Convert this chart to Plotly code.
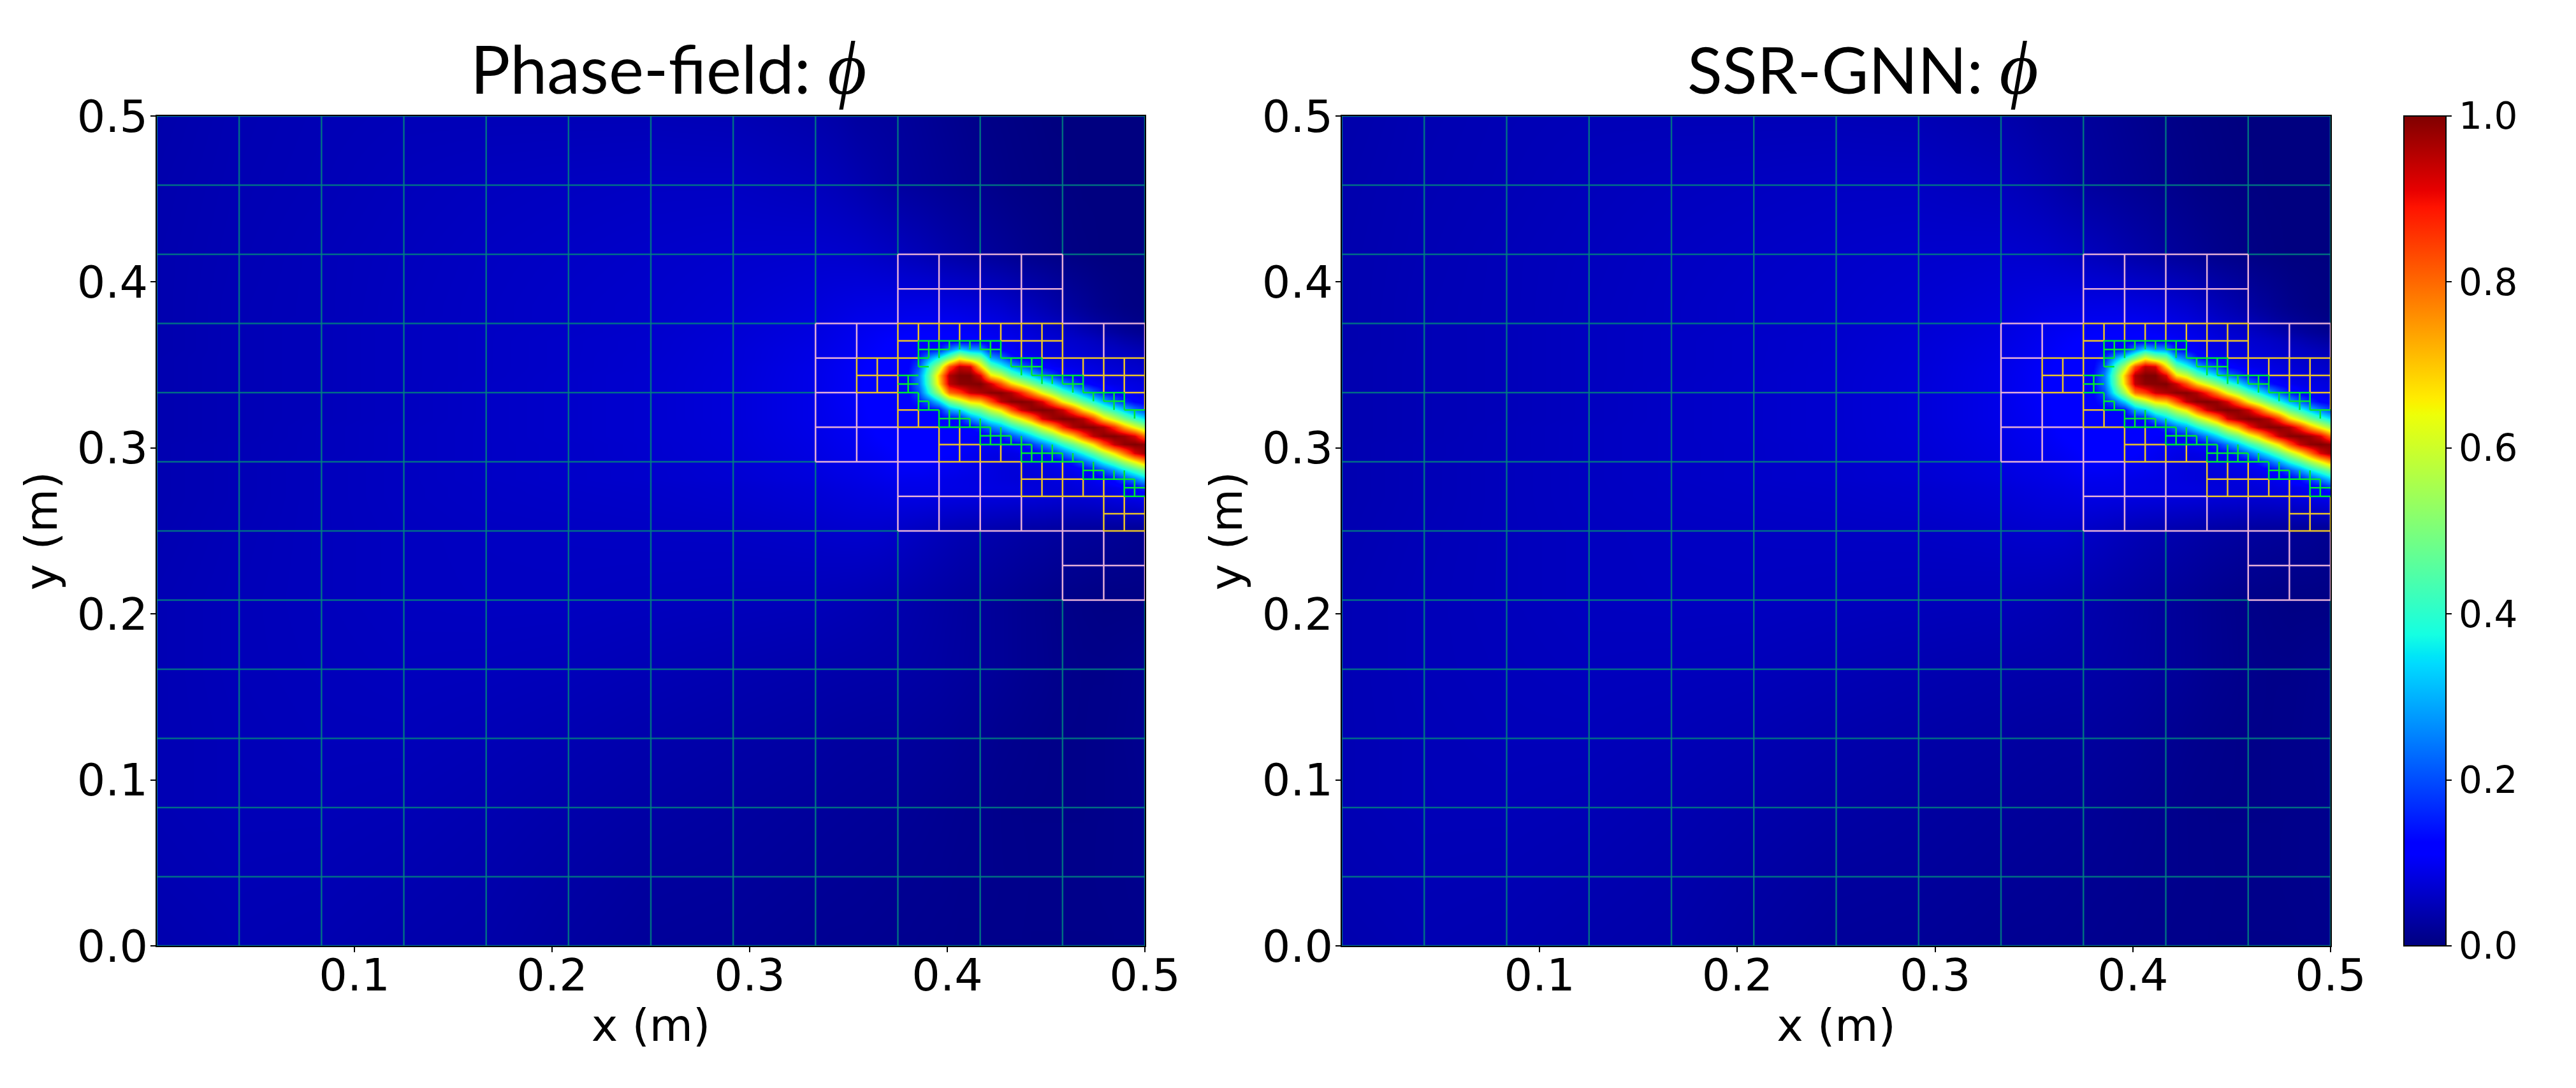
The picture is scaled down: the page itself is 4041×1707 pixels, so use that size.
import numpy as np
import plotly.graph_objects as go

# all mesh/field positions are in units of the finest cell, 1/192 m
CELL = 1 / 192

X_IDX = [0, 8, 16, 24, 32, 40, 48, 56, 64, 66, 68, 70] + list(range(72, 97))
Y_IDX = [0, 8, 16, 24, 32, 40, 48] + list(range(52, 75)) + [80, 88, 96]

# phi, in thousandths. one row per Y_IDX, bottom row first
PHI = [
    [40, 44, 42, 38, 35, 28, 22, 20, 16, 15, 15, 14, 13, 13, 12, 12, 11, 11, 10, 10, 10, 9, 9, 9, 9, 8, 8, 8, 8, 8, 8, 8, 8, 9, 9, 9, 10],
    [43, 46, 45, 42, 38, 32, 26, 24, 20, 19, 18, 17, 16, 15, 15, 14, 14, 13, 12, 12, 11, 11, 10, 10, 10, 9, 9, 9, 9, 9, 9, 9, 10, 10, 10, 11, 11],
    [45, 48, 48, 46, 42, 37, 32, 28, 24, 23, 22, 21, 20, 19, 18, 17, 16, 15, 14, 13, 12, 11, 10, 9, 9, 8, 8, 8, 8, 8, 8, 9, 9, 10, 10, 11, 12],
    [45, 48, 50, 50, 47, 43, 38, 34, 30, 28, 27, 26, 26, 25, 24, 23, 22, 21, 19, 18, 16, 15, 13, 12, 11, 10, 9, 8, 8, 8, 8, 9, 9, 10, 11, 12, 13],
    [45, 49, 51, 53, 52, 50, 46, 42, 38, 37, 36, 35, 34, 33, 32, 31, 30, 28, 27, 25, 23, 22, 20, 18, 16, 14, 13, 11, 10, 9, 8, 8, 8, 9, 10, 11, 12],
    [45, 49, 52, 55, 56, 56, 54, 52, 50, 48, 46, 43, 40, 38, 36, 34, 32, 30, 28, 26, 24, 22, 20, 18, 16, 14, 12, 10, 8, 7, 6, 5, 4, 4, 4, 4, 4],
    [43, 48, 52, 55, 57, 58, 59, 60, 64, 66, 67, 66, 62, 59, 56, 53, 50, 47, 44, 42, 40, 38, 36, 34, 32, 30, 29, 27, 26, 24, 23, 22, 21, 19, 18, 16, 15],
    [42, 47, 52, 56, 59, 61, 63, 67, 74, 77, 80, 82, 86, 86, 86, 85, 85, 84, 83, 82, 81, 80, 79, 78, 77, 76, 75, 74, 72, 72, 73, 75, 79, 85, 89, 92, 100],
    [42, 47, 52, 56, 59, 62, 64, 68, 76, 80, 83, 86, 90, 90, 90, 90, 89, 88, 87, 86, 85, 84, 83, 82, 80, 79, 77, 76, 76, 78, 82, 86, 89, 95, 105, 122, 165],
    [42, 47, 52, 56, 60, 63, 66, 71, 80, 84, 87, 91, 96, 95, 95, 94, 92, 90, 88, 86, 84, 83, 80, 78, 76, 76, 78, 80, 83, 86, 90, 96, 110, 135, 190, 245, 315],
    [42, 47, 52, 56, 60, 63, 66, 72, 82, 87, 90, 95, 102, 102, 102, 100, 98, 96, 93, 90, 87, 84, 80, 78, 78, 80, 84, 87, 91, 97, 110, 140, 200, 270, 350, 420, 490],
    [42, 47, 52, 56, 60, 63, 67, 73, 84, 89, 93, 98, 106, 108, 108, 108, 106, 103, 100, 96, 90, 84, 82, 82, 85, 88, 92, 100, 115, 150, 210, 280, 370, 445, 540, 630, 730],
    [42, 47, 51, 56, 60, 63, 68, 74, 86, 91, 96, 102, 110, 112, 114, 114, 112, 110, 106, 100, 95, 90, 88, 90, 94, 102, 122, 165, 230, 300, 375, 460, 560, 665, 790, 920, 975],
    [42, 47, 51, 56, 60, 63, 68, 75, 87, 93, 98, 106, 114, 116, 118, 118, 116, 114, 110, 106, 102, 98, 100, 108, 130, 178, 245, 315, 400, 475, 570, 670, 820, 940, 988, 1000, 988],
    [41, 46, 51, 56, 60, 64, 69, 76, 89, 95, 100, 110, 116, 118, 118, 118, 118, 116, 112, 108, 105, 130, 145, 200, 262, 335, 420, 490, 600, 690, 830, 945, 992, 998, 975, 920, 790],
    [41, 46, 51, 56, 60, 64, 69, 76, 90, 96, 102, 112, 118, 118, 118, 118, 116, 115, 113, 120, 170, 240, 290, 370, 440, 510, 630, 730, 875, 960, 993, 995, 960, 860, 730, 630, 540],
    [41, 46, 50, 55, 60, 64, 69, 77, 91, 97, 104, 114, 118, 118, 118, 115, 115, 125, 140, 250, 320, 400, 450, 560, 650, 760, 920, 975, 999, 992, 955, 850, 690, 590, 495, 420, 350],
    [41, 46, 50, 55, 60, 64, 69, 77, 91, 98, 105, 115, 118, 118, 115, 125, 140, 280, 330, 440, 490, 590, 670, 820, 935, 985, 1000, 988, 935, 820, 680, 580, 470, 395, 315, 245, 190],
    [41, 46, 50, 55, 60, 64, 69, 77, 91, 99, 106, 116, 120, 120, 150, 220, 330, 480, 570, 670, 700, 825, 945, 992, 999, 985, 920, 790, 650, 560, 465, 385, 300, 220, 165, 122, 105],
    [41, 46, 50, 55, 60, 64, 69, 77, 91, 99, 106, 116, 120, 125, 200, 380, 550, 790, 845, 935, 960, 990, 995, 960, 875, 760, 630, 540, 440, 370, 290, 215, 150, 115, 100, 92, 88],
    [41, 46, 50, 55, 60, 64, 69, 77, 91, 98, 106, 116, 120, 130, 240, 440, 680, 945, 990, 995, 1000, 935, 825, 690, 600, 510, 420, 350, 262, 200, 145, 112, 98, 90, 87, 84, 80],
    [41, 46, 50, 55, 59, 64, 69, 76, 91, 98, 106, 116, 120, 135, 250, 450, 700, 960, 1000, 1000, 920, 670, 600, 470, 400, 335, 245, 190, 130, 108, 96, 90, 86, 82, 78, 74, 70],
    [41, 46, 50, 55, 59, 63, 68, 76, 90, 97, 105, 114, 118, 122, 200, 400, 560, 825, 945, 920, 680, 470, 390, 300, 230, 178, 122, 105, 94, 90, 86, 82, 76, 72, 68, 66, 62],
    [41, 46, 50, 55, 59, 63, 68, 75, 88, 95, 103, 112, 116, 118, 150, 280, 380, 500, 635, 550, 500, 300, 240, 150, 115, 102, 92, 88, 85, 81, 76, 72, 68, 64, 61, 58, 54],
    [40, 46, 50, 55, 59, 63, 67, 75, 87, 93, 100, 108, 114, 116, 116, 125, 140, 250, 330, 280, 270, 140, 115, 105, 91, 88, 84, 80, 75, 72, 68, 64, 60, 56, 51, 46, 42],
    [40, 46, 50, 55, 59, 63, 67, 74, 85, 91, 98, 105, 112, 113, 114, 114, 115, 115, 120, 118, 115, 105, 100, 96, 90, 84, 78, 75, 70, 66, 62, 57, 50, 45, 38, 33, 28],
    [40, 46, 50, 55, 59, 62, 66, 73, 83, 89, 95, 101, 106, 107, 108, 108, 108, 108, 108, 105, 100, 97, 93, 88, 82, 76, 70, 66, 61, 55, 48, 42, 34, 28, 22, 18, 14],
    [40, 46, 50, 55, 58, 62, 66, 72, 82, 87, 93, 95, 98, 100, 100, 100, 100, 100, 98, 95, 92, 88, 84, 79, 74, 68, 62, 57, 50, 44, 36, 30, 24, 18, 14, 10, 8],
    [40, 46, 49, 54, 58, 62, 65, 71, 80, 84, 89, 91, 92, 93, 93, 93, 93, 92, 90, 87, 84, 80, 76, 70, 65, 58, 52, 46, 40, 33, 27, 21, 16, 12, 8, 6, 4],
    [40, 46, 49, 54, 58, 62, 65, 70, 78, 82, 85, 87, 88, 88, 88, 88, 86, 84, 82, 80, 76, 72, 68, 62, 56, 50, 44, 38, 32, 25, 20, 15, 10, 7, 4, 3, 2],
    [40, 45, 49, 53, 57, 60, 63, 66, 68, 67, 65, 60, 55, 51, 48, 44, 40, 36, 33, 29, 26, 23, 20, 17, 14, 11, 9, 7, 5, 3, 2, 1, 0, 0, 0, 0, 0],
    [39, 44, 47, 51, 54, 56, 58, 58, 52, 48, 42, 35, 28, 26, 24, 22, 20, 18, 16, 14, 12, 10, 8, 6, 5, 4, 3, 2, 1, 1, 0, 0, 0, 0, 0, 0, 0],
    [37, 43, 46, 48, 48, 48, 48, 46, 38, 34, 28, 26, 24, 22, 20, 18, 16, 14, 12, 10, 8, 6, 5, 4, 3, 2, 1, 0, 0, 0, 0, 0, 0, 0, 0, 0, 0],
]
PHI_SSR = PHI

# mesh edges: (x, y0, y1) for verticals, (y, x0, x1) for horizontals
TEAL_V = [(0, 0, 96), (8, 0, 96), (16, 0, 96), (24, 0, 96), (32, 0, 96), (40, 0, 96), (48, 0, 96), (56, 0, 96),
          (64, 0, 56), (64, 72, 96), (72, 0, 48), (72, 80, 96), (80, 0, 48), (80, 80, 96), (88, 0, 40), (88, 80, 96), (96, 0, 40), (96, 72, 96)]
TEAL_H = [(0, 0, 96), (8, 0, 96), (16, 0, 96), (24, 0, 96), (32, 0, 96), (40, 0, 88), (48, 0, 72), (56, 0, 64), (64, 0, 64),
          (72, 0, 64), (80, 0, 72), (80, 88, 96), (88, 0, 96), (96, 0, 96)]
PINK_V = [(64, 56, 72), (68, 68, 72), (68, 56, 64), (72, 72, 80), (72, 48, 60), (76, 72, 80), (76, 48, 56), (80, 72, 80), (80, 48, 56),
          (84, 72, 80), (84, 48, 52), (88, 72, 80), (88, 40, 52), (92, 68, 72), (92, 40, 48), (96, 68, 72), (96, 40, 48)]
PINK_H = [(80, 72, 88), (76, 72, 88), (72, 64, 72), (72, 88, 96), (68, 64, 68), (64, 64, 68), (60, 64, 72), (56, 64, 76),
          (52, 72, 84), (48, 72, 92), (44, 88, 96), (40, 88, 96)]
GOLD_V = [(68, 64, 68), (70, 64, 68), (72, 60, 72), (74, 70, 72), (74, 60, 62), (76, 70, 72), (76, 56, 60), (78, 70, 72), (78, 56, 60),
          (80, 70, 72), (80, 56, 58), (82, 70, 72), (82, 56, 58), (84, 68, 72), (84, 52, 56), (86, 68, 72), (86, 52, 56), (88, 66, 72),
          (88, 52, 56), (90, 66, 68), (90, 52, 54), (92, 64, 68), (92, 48, 54), (94, 64, 68), (94, 48, 52), (96, 62, 68), (96, 48, 52)]
GOLD_H = [(72, 72, 88), (70, 72, 74), (70, 82, 88), (68, 68, 74), (68, 86, 96), (66, 68, 72), (66, 90, 96), (64, 68, 72), (64, 94, 96),
          (62, 72, 74), (60, 72, 76), (58, 76, 80), (56, 76, 84), (54, 84, 90), (52, 84, 94), (50, 92, 96), (48, 92, 96)]
GREEN_V = [(74, 67, 70), (74, 62, 64), (76, 68, 70), (76, 60, 62), (78, 69, 70), (78, 60, 62), (80, 69, 70), (80, 58, 61), (82, 68, 70),
           (82, 58, 60), (84, 66, 68), (84, 56, 59), (86, 65, 68), (86, 56, 58), (88, 65, 66), (88, 56, 57), (90, 64, 66), (90, 54, 56),
           (92, 63, 64), (92, 54, 55), (94, 62, 64), (94, 52, 55), (73, 64, 66), (75, 68, 70), (75, 62, 63), (77, 69, 70), (77, 60, 62),
           (79, 69, 70), (79, 60, 61), (81, 68, 70), (81, 58, 60), (83, 67, 68), (83, 58, 59), (85, 66, 68), (85, 56, 58), (87, 65, 66),
           (87, 56, 58), (89, 64, 66), (89, 56, 57), (91, 63, 64), (91, 54, 56), (93, 62, 64), (93, 54, 55), (95, 61, 62), (95, 52, 54)]
GREEN_H = [(70, 74, 82), (69, 74, 77), (69, 80, 82), (68, 74, 75), (68, 82, 86), (67, 74, 75), (67, 83, 86), (66, 72, 74), (66, 85, 90),
           (65, 72, 74), (65, 88, 90), (64, 72, 74), (64, 90, 94), (63, 74, 75), (63, 92, 94), (62, 74, 76), (62, 94, 96), (61, 76, 79),
           (60, 76, 81), (59, 80, 83), (58, 80, 85), (57, 84, 88), (56, 84, 90), (55, 90, 92), (54, 90, 95), (53, 94, 96), (52, 94, 96)]

X_TICKS = [0.1, 0.2, 0.3, 0.4, 0.5]
Y_TICKS = [0.0, 0.1, 0.2, 0.3, 0.4, 0.5]
CB_TICKS = [0.0, 0.2, 0.4, 0.6, 0.8, 1.0]

JET = [
    [0.0, "rgb(0,0,128)"], [0.11, "rgb(0,0,255)"], [0.125, "rgb(0,0,255)"], [0.34, "rgb(0,219,255)"],
    [0.35, "rgb(0,230,247)"], [0.375, "rgb(21,255,226)"], [0.64, "rgb(238,255,8)"], [0.65, "rgb(247,246,0)"],
    [0.66, "rgb(255,236,0)"], [0.89, "rgb(255,19,0)"], [0.91, "rgb(232,0,0)"], [1.0, "rgb(128,0,0)"],
]

# the page body has an 8px margin, so the figure is smaller than the window
PAD = 8
W, H = 4041 - 2 * PAD, 1707 - 2 * PAD
TICK_FONT = dict(family="DejaVu Sans", size=70, color="black")
PHI_SPAN = '<span style="font-family:Liberation Serif;font-size:118px"><i>ϕ</i></span>'


def px_x(v):
    return (v - PAD) / W


def px_y(v):
    return 1 - (v - PAD) / H


def segs(vert, horiz):
    xs, ys = [], []
    for x, y0, y1 in vert:
        xs += [x * CELL, x * CELL, None]
        ys += [y0 * CELL, y1 * CELL, None]
    for y, x0, x1 in horiz:
        xs += [x0 * CELL, x1 * CELL, None]
        ys += [y * CELL, y * CELL, None]
    return xs, ys


MESH = [
    (TEAL_V, TEAL_H, "rgba(0,128,128,0.85)"),
    (PINK_V, PINK_H, "rgb(228,175,215)"),
    (GOLD_V, GOLD_H, "rgb(235,195,40)"),
    (GREEN_V, GREEN_H, "rgb(0,232,50)"),
]

x_vals = np.array(X_IDX) * CELL
y_vals = np.array(Y_IDX) * CELL

fig = go.Figure()
for phi, xa, ya in [(PHI, "x", "y"), (PHI_SSR, "x2", "y2")]:
    fig.add_trace(go.Heatmap(x=x_vals, y=y_vals, z=np.array(phi) / 1000, coloraxis="coloraxis",
                             zsmooth="best", xaxis=xa, yaxis=ya, hoverinfo="skip"))
    for vert, horiz, col in MESH:
        xs, ys = segs(vert, horiz)
        fig.add_trace(go.Scatter(x=xs, y=ys, mode="lines", line=dict(color=col, width=2.5),
                                 xaxis=xa, yaxis=ya, hoverinfo="skip", showlegend=False))

ax_common = dict(range=[0, 0.5], ticks="outside", ticklen=8, tickwidth=2, tickcolor="black", showgrid=False, automargin=False,
                 zeroline=False, showline=True, linecolor="black", linewidth=2, mirror=True, tickfont=TICK_FONT)
TITLE_FONT = dict(family="DejaVu Sans", size=70, color="black")
x_ax = dict(tickvals=X_TICKS, ticktext=[f"{v:.1f}" for v in X_TICKS], ticklabelstandoff=-24,
            title=dict(text="x (m)", font=TITLE_FONT, standoff=14), **ax_common)
y_ax = dict(tickvals=Y_TICKS, ticktext=[f"{v:.1f}" for v in Y_TICKS], ticklabelstandoff=-10,
            title=dict(text="y (m)", font=TITLE_FONT, standoff=8), **ax_common)

y_dom = [px_y(1484), px_y(182)]
fig.update_layout(
    width=W, height=H, margin=dict(l=0, r=0, t=0, b=0, autoexpand=False), paper_bgcolor="white", plot_bgcolor="white",
    xaxis=dict(domain=[px_x(246), px_x(1796)], anchor="y", **x_ax),
    yaxis=dict(domain=y_dom, anchor="x", **y_ax),
    xaxis2=dict(domain=[px_x(2105), px_x(3656)], anchor="y2", **x_ax),
    yaxis2=dict(domain=y_dom, anchor="x2", **y_ax),
    coloraxis=dict(
        colorscale=JET, cmin=0, cmax=1,
        colorbar=dict(x=px_x(3771), xanchor="left", xpad=0, ypad=0, y=y_dom[0], yanchor="bottom", len=1302 / H,
                      lenmode="fraction", thickness=66, thicknessmode="pixels", outlinecolor="black", outlinewidth=2,
                      ticks="outside", ticklen=8, tickwidth=2, tickcolor="black", tickvals=CB_TICKS,
                      ticktext=[f"{v:.1f}" for v in CB_TICKS], tickfont=dict(family="DejaVu Sans", size=58, color="black")),
    ),
    annotations=[
        dict(text="Phase-field: " + PHI_SPAN, x=px_x(1048), y=px_y(175), xref="paper", yref="paper", xanchor="center",
             yanchor="bottom", showarrow=False, font=dict(family="Lato", size=104, color="black")),
        dict(text="SSR-GNN: " + PHI_SPAN, x=px_x(2922), y=px_y(175), xref="paper", yref="paper", xanchor="center",
             yanchor="bottom", showarrow=False, font=dict(family="Lato", size=101, color="black")),
    ],
)

fig.write_html("out.html")
